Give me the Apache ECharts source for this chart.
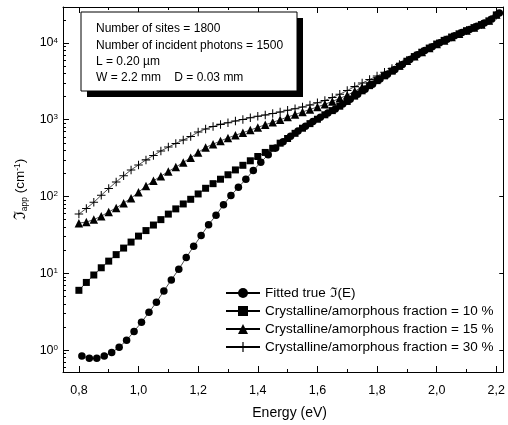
<!DOCTYPE html>
<html>
<head>
<meta charset="utf-8">
<script src="https://cdn.jsdelivr.net/npm/echarts@6/dist/echarts.min.js"></script>
<style>
html, body { margin: 0; padding: 0; background: #fff; }
#chart { width: 508px; height: 425px; }
</style>
</head>
<body>
<div id="chart"></div>
<script>
/* valores */
var energy = [0.800, 0.825, 0.850, 0.875, 0.900, 0.925, 0.950, 0.975, 1.000, 1.025,
    1.050, 1.075, 1.100, 1.125, 1.150, 1.175, 1.200, 1.225, 1.250, 1.275,
    1.300, 1.325, 1.350, 1.375, 1.400, 1.425, 1.450, 1.475, 1.500, 1.525,
    1.550, 1.575, 1.600, 1.625, 1.650, 1.675, 1.700, 1.725, 1.750, 1.775,
    1.800, 1.825, 1.850, 1.875, 1.900, 1.925, 1.950, 1.975, 2.000, 2.025,
    2.050, 2.075, 2.100, 2.125, 2.150, 2.175, 2.200];
var energyFit = [0.810, 0.835, 0.860, 0.885, 0.910, 0.935, 0.960, 0.985, 1.010, 1.035,
    1.060, 1.085, 1.110, 1.135, 1.160, 1.185, 1.210, 1.235, 1.260, 1.285,
    1.310, 1.335, 1.360, 1.385, 1.410, 1.435, 1.460, 1.485, 1.510, 1.535,
    1.560, 1.585, 1.610, 1.635, 1.660, 1.685, 1.710, 1.735, 1.760, 1.785,
    1.810, 1.835, 1.860, 1.885, 1.910, 1.935, 1.960, 1.985, 2.010, 2.035,
    2.060, 2.085, 2.110, 2.135, 2.160, 2.185, 2.210];
var fitTrue = [0.84, 0.78, 0.78, 0.84, 0.93, 1.09, 1.34, 1.75, 2.3, 3.1,
    4.2, 5.9, 8.2, 11.3, 16, 22.5, 31, 43, 57, 78,
    103, 132, 168, 218, 280, 350, 428, 515, 610, 715,
    825, 945, 1080, 1225, 1380, 1600, 1850, 2150, 2500, 2900,
    3400, 3900, 4500, 5250, 6100, 7000, 7950, 8950, 10050, 11200,
    12400, 13700, 15000, 16500, 18200, 20500, 24500];
var frac10 = [6.0, 7.6, 9.5, 11.8, 14.4, 17.5, 21.3, 25.5, 30.5, 36,
    42.5, 50, 59, 69, 80, 92, 108, 128, 147, 168,
    192, 222, 255, 292, 332, 375, 425, 495, 570, 665,
    775, 890, 1015, 1160, 1315, 1500, 1730, 2030, 2380, 2780,
    3230, 3730, 4300, 4980, 5780, 6650, 7580, 8580, 9680, 10800,
    11950, 13150, 14450, 15850, 17350, 19400, 23200];
var frac15 = [45, 46.5, 50, 55.5, 63, 71, 82, 95, 114, 137,
    160, 184, 212, 242, 278, 320, 375, 435, 480, 530,
    580, 628, 678, 735, 795, 860, 925, 1000, 1085, 1170,
    1265, 1360, 1470, 1590, 1730, 1900, 2080, 2350, 2650, 3000,
    3400, 3900, 4450, 5100, 5850, 6700, 7600, 8600, 9700, 10800,
    12000, 13200, 14500, 15900, 17400, 19600, 23500];
var frac30 = [59, 70, 84, 104, 127, 155, 186, 222, 258, 300,
    342, 392, 440, 492, 545, 605, 690, 760, 815, 870,
    915, 965, 1010, 1065, 1110, 1155, 1205, 1260, 1325, 1395,
    1465, 1560, 1660, 1780, 1950, 2150, 2400, 2700, 3000, 3350,
    3700, 4150, 4650, 5250, 5950, 6750, 7650, 8650, 9750, 10900,
    12000, 13200, 14500, 15900, 17400, 19500, 23000];

var seriesNames = ['Fitted true \u2111(E)',
    'Crystalline/amorphous fraction = 10 %',
    'Crystalline/amorphous fraction = 15 %',
    'Crystalline/amorphous fraction = 30 %'];
var xMajorTicks = [0.8, 1.0, 1.2, 1.4, 1.6, 1.8, 2.0, 2.2];
var xMinorTicks = [0.9, 1.1, 1.3, 1.5, 1.7, 1.9, 2.1];
var yMinorTicks = [0.6, 0.7, 0.8, 0.9, 2, 3, 4, 5, 6, 7, 8, 9,
    20, 30, 40, 50, 60, 70, 80, 90, 200, 300, 400, 500, 600, 700, 800, 900,
    2000, 3000, 4000, 5000, 6000, 7000, 8000, 9000, 20000];
var infoLines = ['Number of sites = 1800',
    'Number of incident photons = 1500',
    'L = 0.20 \u00b5m',
    'W = 2.2 mm    D = 0.03 mm'];

var xMin = 0.7467, xMax = 2.2233;
var yMin = 0.518, yMax = 29400;
var fuente = '"Liberation Sans", Arial, sans-serif';
var plusPath = 'path://M4.4,0h1.2v4.4h4.4v1.2h-4.4v4.4h-1.2v-4.4h-4.4v-1.2h4.4z';

function pares(xs, ys) {
    return xs.map(function (x, i) { return [x, ys[i]]; });
}

var dom = document.getElementById('chart');
var myChart = echarts.init(dom);

function ejeX(pos, ticks, len, labels) {
    return {
        type: 'value',
        position: pos,
        min: xMin,
        max: xMax,
        axisLine: { show: labels, onZero: false, lineStyle: { color: '#000', width: 1 } },
        axisTick: { show: true, inside: true, length: len, customValues: ticks, lineStyle: { color: '#000' } },
        axisLabel: {
            show: labels,
            customValues: ticks,
            color: '#000',
            fontSize: 12.5,
            fontFamily: fuente,
            margin: 12,
            formatter: function (v) { return v.toFixed(1).replace('.', ','); }
        },
        splitLine: { show: false }
    };
}

var xAxes = [
    ejeX('bottom', xMajorTicks, 6, true),
    ejeX('bottom', xMinorTicks, 3, false),
    ejeX('top', xMajorTicks, 6, false),
    ejeX('top', xMinorTicks, 3, false)
];
xAxes[0].name = 'Energy (eV)';
xAxes[0].nameLocation = 'middle';
xAxes[0].nameGap = 34;
xAxes[0].nameTextStyle = { color: '#000', fontSize: 14, fontFamily: fuente, padding: [0, 0, 0, 13] };
xAxes[2].axisLine.show = true;

var yAxes = [{
    type: 'log',
    position: 'left',
    min: yMin,
    max: yMax,
    logBase: 10,
    axisLine: { show: true, onZero: false, lineStyle: { color: '#000', width: 1 } },
    axisTick: { show: true, inside: true, length: 6, lineStyle: { color: '#000' } },
    axisLabel: {
        color: '#000',
        fontFamily: fuente,
        margin: 5,
        showMinLabel: false,
        showMaxLabel: false,
        formatter: function (v) {
            return '{b|10}{s|' + Math.round(Math.log10(v)) + '}';
        },
        rich: {
            b: { fontSize: 12.5, fontFamily: fuente, color: '#000' },
            s: { fontSize: 8, fontFamily: fuente, color: '#000', verticalAlign: 'top' }
        }
    },
    splitLine: { show: false },
    name: '{i|\u2111}{sub|app} (cm{sup|-1})',
    nameLocation: 'middle',
    nameRotate: 90,
    nameGap: 30,
    nameTextStyle: {
        color: '#000',
        fontFamily: fuente,
        fontSize: 13.5,
        rich: {
            i: { fontSize: 16, fontFamily: fuente, color: '#000' },
            sub: { fontSize: 8.5, fontFamily: fuente, color: '#000', verticalAlign: 'bottom' },
            sup: { fontSize: 8.5, fontFamily: fuente, color: '#000', verticalAlign: 'top' }
        }
    }
}, {
    type: 'value',
    position: 'left',
    min: Math.log10(yMin),
    max: Math.log10(yMax),
    axisLine: { show: false },
    axisTick: { show: true, inside: true, length: 3, customValues: yMinorTicks.map(Math.log10), lineStyle: { color: '#000' } },
    axisLabel: { show: false },
    splitLine: { show: false }
}, {
    type: 'log',
    position: 'right',
    min: yMin,
    max: yMax,
    logBase: 10,
    axisLine: { show: true, onZero: false, lineStyle: { color: '#000', width: 1 } },
    axisTick: { show: true, inside: true, length: 4, lineStyle: { color: '#000' } },
    axisLabel: { show: false },
    splitLine: { show: false }
}];

function serie(nombre, xs, ys, simbolo, tam, z) {
    return {
        name: nombre,
        type: 'line',
        xAxisIndex: 0,
        yAxisIndex: 0,
        data: pares(xs, ys),
        symbol: simbolo,
        symbolSize: tam,
        showAllSymbol: true,
        z: z,
        color: '#000',
        itemStyle: { color: '#000' },
        lineStyle: { color: '#000', width: 0.7 },
        emphasis: { disabled: true },
        animation: false
    };
}

option = null;
option = {
    animation: false,
    grid: { left: 63, right: 2, top: 7, bottom: 52, containLabel: false },
    legend: {
        orient: 'vertical',
        left: 225,
        top: 286,
        padding: 0,
        itemWidth: 34,
        itemHeight: 12.5,
        itemGap: 4,
        textStyle: { color: '#000', fontSize: 13.5, fontFamily: fuente, lineHeight: 14 },
        data: seriesNames
    },
    xAxis: xAxes,
    yAxis: yAxes,
    graphic: [{
        type: 'rect',
        shape: { x: 87, y: 18, width: 216, height: 79 },
        style: { fill: '#000' },
        z: 10
    }, {
        type: 'rect',
        shape: { x: 81, y: 12, width: 216, height: 79 },
        style: { fill: '#fff', stroke: '#000', lineWidth: 1 },
        z: 11
    }, {
        type: 'text',
        left: 96,
        top: 21,
        style: {
            text: infoLines.join('\n'),
            fill: '#000',
            fontSize: 12,
            fontFamily: fuente,
            lineHeight: 16.3
        },
        z: 12
    }],
    series: [
        serie(seriesNames[0], energyFit, fitTrue, 'circle', 7.5, 3),
        serie(seriesNames[1], energy, frac10, 'rect', 7, 4),
        serie(seriesNames[2], energy, frac15, 'triangle', 8.5, 5),
        serie(seriesNames[3], energy, frac30, plusPath, 8.5, 6)
    ]
};
if (option && typeof option === 'object') {
    myChart.setOption(option, true);
}
</script>
</body>
</html>
